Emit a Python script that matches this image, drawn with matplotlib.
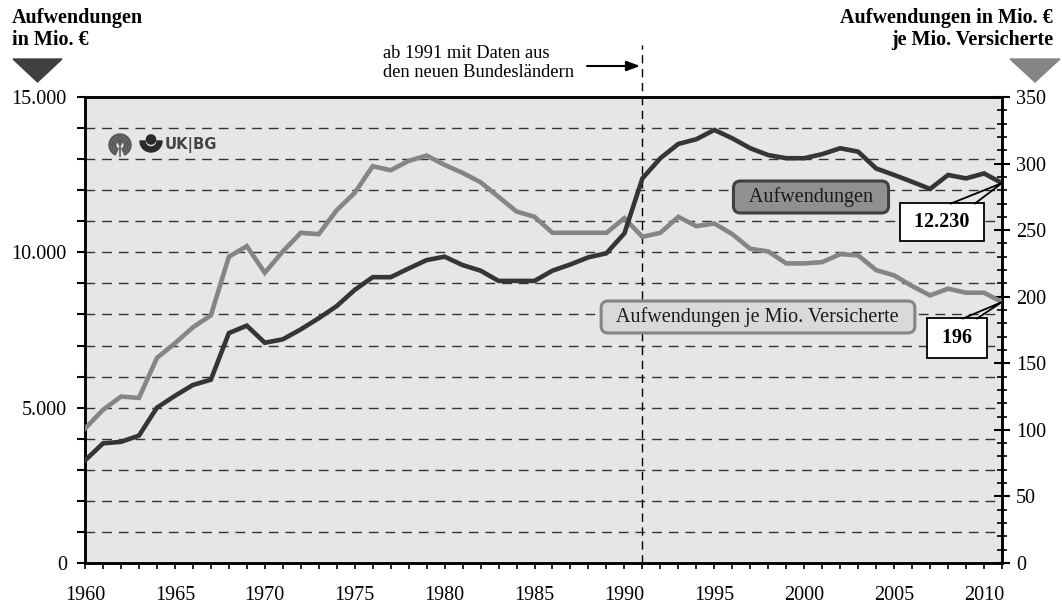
import matplotlib
matplotlib.use("Agg")
import matplotlib.pyplot as plt
from matplotlib.ticker import FuncFormatter, MultipleLocator
from matplotlib.patches import Polygon, Circle, Wedge
from matplotlib.lines import Line2D
import numpy as np

# ---------------- data ----------------
years = list(range(1960, 2012))
aufwendungen = [3300, 3850, 3900, 4100, 5000, 5380, 5730, 5900, 7400, 7640,
                7090, 7200, 7520, 7880, 8270, 8790, 9200, 9200, 9480, 9750,
                9860, 9590, 9410, 9080, 9080, 9080, 9410, 9610, 9840, 9970,
                10610, 12380, 13030, 13490, 13640, 13940, 13670, 13350, 13130, 13030,
                13030, 13160, 13350, 13240, 12700, 12490, 12270, 12040, 12490, 12380,
                12540, 12230]
je_mio_versicherte = [101, 115, 125, 124, 154, 165, 177, 186, 230, 238,
                      218, 234, 248, 247, 265, 278, 298, 295, 302, 306,
                      299, 293, 286, 275, 264, 260, 248, 248, 248, 248,
                      259, 245, 248, 260, 253, 255, 247, 236, 234, 225,
                      225, 226, 232, 231, 220, 216, 208, 201, 206, 203,
                      203, 196]
left_title = "Aufwendungen\nin Mio. €"
right_title = "Aufwendungen in Mio. €\nje Mio. Versicherte"
label_auf = "Aufwendungen"
label_vers = "Aufwendungen je Mio. Versicherte"
note = "ab 1991 mit Daten aus\nden neuen Bundesländern"
break_year = 1991
left_labels = [0, 5000, 10000, 15000]
right_labels = [0, 50, 100, 150, 200, 250, 300, 350]
x_labels = list(range(1960, 2011, 5))

# ---------------- style ----------------
plt.rcParams['font.family'] = ['Liberation Serif', 'DejaVu Serif']
FS = 14.5
DARK = '#353535'
LIGHT = '#858585'
W, H = 1062, 603
fig = plt.figure(figsize=(W / 100, H / 100), dpi=100)

L, R, B, T = 85, 1002, 563, 97
ax = fig.add_axes([L / W, 1 - B / H, (R - L) / W, (B - T) / H])
ax2 = ax.twinx()
ax.set_zorder(ax2.get_zorder() + 1)
ax.patch.set_visible(False)
ax2.patch.set_facecolor('#e6e6e6')
ax2.patch.set_visible(True)

ax.set_xlim(1960, 2011)
ax.set_ylim(0, 15000)
ax2.set_ylim(0, 350)


def px(xp, yp):
    """pixel position -> axes fraction"""
    return ((xp - L) / (R - L), (B - yp) / (B - T))


# grid lines (every 1000)
for v in range(1000, 15000, 1000):
    ax.axhline(v, color='#333333', lw=1.0, dashes=(7, 5), zorder=1)

# vertical break line
ax.axvline(break_year, ymin=0, ymax=(B - 45) / (B - T), color='black', lw=1.0,
           dashes=(6, 4), clip_on=False, zorder=2)

# lines
ax.plot(years, je_mio_versicherte, color=LIGHT, lw=3.3, transform=ax2.transData,
        zorder=3, solid_joinstyle='miter')
ax.plot(years, aufwendungen, color=DARK, lw=3.3, zorder=4, solid_joinstyle='miter')
ax.set_xlim(1960, 2011)
ax.set_ylim(0, 15000)

# spines
for a in (ax, ax2):
    for s in a.spines.values():
        s.set_linewidth(1.8)
        s.set_color('black')

# ticks
ax.set_xticks(years)
ax.set_xticklabels([str(y) if y in x_labels else '' for y in years], fontsize=FS)
ax.tick_params(axis='x', direction='out', length=4.5, width=1.2, pad=12)
ax.yaxis.set_major_locator(MultipleLocator(1000))
ax.yaxis.set_major_formatter(FuncFormatter(
    lambda v, p: (f"{int(v):,}".replace(',', '.')) if int(v) in left_labels else ''))
ax.tick_params(axis='y', direction='out', length=6, width=1.5, pad=7, labelsize=FS)

ax2.set_yticks(right_labels)
ax2.set_yticklabels([str(v) for v in right_labels], fontsize=FS)
ax2.yaxis.set_minor_locator(MultipleLocator(10))
ax2.tick_params(axis='y', which='major', direction='inout', length=12, width=1.5, pad=4)
ax2.tick_params(axis='y', which='minor', direction='inout', length=7, width=1.2)

# titles
fig.text(12 / W, 1 - 8 / H, left_title, ha='left', va='top', fontsize=FS,
         fontweight='bold', linespacing=1.15)
fig.text(1053 / W, 1 - 8 / H, right_title, ha='right', va='top', fontsize=FS,
         fontweight='bold', linespacing=1.15)

# triangles
fig.patches.append(Polygon([[13 / W, 1 - 59 / H], [62 / W, 1 - 59 / H], [37.5 / W, 1 - 82 / H]],
                           closed=True, transform=fig.transFigure, color='#404040'))
fig.patches.append(Polygon([[1010 / W, 1 - 59 / H], [1060 / W, 1 - 59 / H], [1035 / W, 1 - 82 / H]],
                           closed=True, transform=fig.transFigure, color='#858585'))

# note text + arrow
fig.text(383 / W, 1 - 63 / H, note, ha='left', va='center', fontsize=13.3, linespacing=1.2)
ax.annotate('', xy=(640 / W, 1 - 66 / H), xytext=(587 / W, 1 - 66 / H),
            xycoords='figure fraction', textcoords='figure fraction',
            arrowprops=dict(arrowstyle='-|>,head_length=0.8,head_width=0.3',
                            color='black', lw=1.5, shrinkA=0, shrinkB=0))

# series label boxes
ax.text(*px(811, 197), "  " + label_auf + "  ", transform=ax.transAxes,
        ha='center', va='center', fontsize=FS, color='#1a1a1a', zorder=6,
        bbox=dict(boxstyle='round,pad=0.3,rounding_size=0.35', fc='#909090', ec='#404040', lw=2.2))
ax.text(*px(758, 317), "  " + label_vers + "  ", transform=ax.transAxes,
        ha='center', va='center', fontsize=FS, color='#1a1a1a', zorder=6,
        bbox=dict(boxstyle='round,pad=0.3,rounding_size=0.35', fc='#d9d9d9', ec='#858585', lw=2.2))

# callouts for last values
to_axes = ax.transAxes.inverted()
pt_auf = to_axes.transform(ax.transData.transform((years[-1], aufwendungen[-1])))
pt_ver = to_axes.transform(ax2.transData.transform((years[-1], je_mio_versicherte[-1])))


def callout(text, center, pt, base_a, base_b, pad):
    ax.text(*center, " " + text + " ", transform=ax.transAxes, ha='center', va='center',
            fontsize=FS, fontweight='bold', zorder=7, clip_on=False,
            bbox=dict(boxstyle=f'square,pad={pad}', fc='white', ec='black', lw=1.3))
    ax.add_line(Line2D([base_a[0], pt[0], base_b[0]], [base_a[1], pt[1], base_b[1]],
                       transform=ax.transAxes, color='black', lw=1.3, zorder=9,
                       clip_on=False, solid_joinstyle='miter'))


callout(f"{aufwendungen[-1]:,}".replace(',', '.'), px(942, 222), pt_auf,
        px(951, 203.5), px(975, 203.5), 0.45)
callout(str(je_mio_versicherte[-1]), px(957, 338), pt_ver,
        px(963, 318.5), px(977, 318.5), 0.5)

# logo (UK|BG)
lg = fig.add_axes([108 / W, 1 - 158 / H, 112 / W, 28 / H])
lg.set_xlim(0, 112)
lg.set_ylim(0, 28)
lg.set_aspect('equal')
lg.axis('off')
for r in (11, 8.3, 5.6):
    lg.add_patch(Wedge((12, 13), r, -65, 245, width=1.4, color='#5a5a5a'))
lg.add_patch(Circle((12, 15), 1.6, color='#5a5a5a'))
lg.plot([12, 12], [2, 13], color='#5a5a5a', lw=1.2)
lg.add_patch(Wedge((43, 17), 11, 180, 360, width=5.0, color='#2a2a2a'))
lg.add_patch(Circle((43, 18.5), 4.6, color='#2a2a2a'))
lg.text(57, 13, "UK|BG", fontsize=10.7, fontweight='bold', color='#444444',
        family='DejaVu Sans', ha='left', va='center')

fig.savefig('out.png', dpi=100)
